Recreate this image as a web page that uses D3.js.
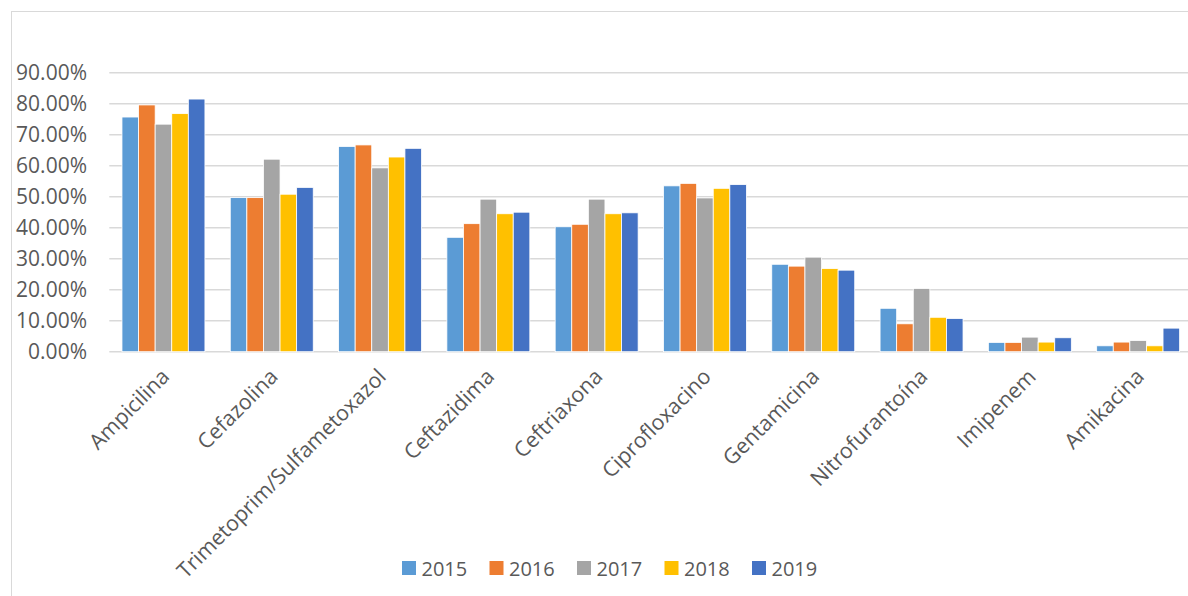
<!DOCTYPE html>
<html>
<head>
<meta charset="utf-8">
<script src="https://cdn.jsdelivr.net/npm/d3@7"></script>
<style>
  html, body { margin: 0; padding: 0; background: #fff; }
  svg { display: block; }
  text { font-family: "Open Sans", "Noto Sans", sans-serif; fill: #595959; }
</style>
</head>
<body>
<svg id="chart" width="1188" height="596"></svg>
<script>
// Antibiotic resistance by year (share of isolates)
const categories = ["Ampicilina", "Cefazolina", "Trimetoprim/Sulfametoxazol", "Ceftazidima",
  "Ceftriaxona", "Ciprofloxacino", "Gentamicina", "Nitrofurantoína", "Imipenem", "Amikacina"];
const years = ["2015", "2016", "2017", "2018", "2019"];
const v2015 = [0.757, 0.497, 0.662, 0.369, 0.403, 0.535, 0.282, 0.140, 0.030, 0.019];
const v2016 = [0.796, 0.497, 0.667, 0.413, 0.411, 0.543, 0.276, 0.090, 0.030, 0.031];
const v2017 = [0.734, 0.621, 0.593, 0.492, 0.492, 0.496, 0.305, 0.204, 0.047, 0.036];
const v2018 = [0.768, 0.508, 0.628, 0.445, 0.445, 0.527, 0.268, 0.111, 0.031, 0.019];
const v2019 = [0.815, 0.530, 0.656, 0.450, 0.448, 0.539, 0.263, 0.107, 0.045, 0.076];
const yTicks = [0, 0.1, 0.2, 0.3, 0.4, 0.5, 0.6, 0.7, 0.8, 0.9];
const colors = ["#5b9bd5", "#ed7d31", "#a5a5a5", "#ffc000", "#4472c4"];

const seriesValues = [v2015, v2016, v2017, v2018, v2019];
const svg = d3.select("#chart");

// chart frame
svg.append("rect")
  .attr("x", 11.5).attr("y", 11.5)
  .attr("width", 1300).attr("height", 700)
  .attr("fill", "none").attr("stroke", "#d9d9d9").attr("stroke-width", 1);

const plotLeft = 109.3, step = 108.3;
const x = d3.scaleBand()
  .domain(categories)
  .range([plotLeft, plotLeft + step * categories.length])
  .paddingInner(0.234)
  .paddingOuter(0.117);
const xs = d3.scaleBand().domain(years).range([0, x.bandwidth()]);
const y = d3.scaleLinear().domain([0, 0.9]).range([351.7, 72.7]);

// gridlines
svg.append("g")
  .selectAll("line")
  .data(yTicks)
  .join("line")
  .attr("x1", plotLeft).attr("x2", 1200)
  .attr("y1", d => y(d)).attr("y2", d => y(d))
  .attr("stroke", "#d9d9d9").attr("stroke-width", 1.4);

// y axis labels
const yAxis = d3.axisLeft(y).tickValues(yTicks).tickFormat(d3.format(".2%")).tickSize(0).tickPadding(0);
const gy = svg.append("g").attr("transform", "translate(87,0)").call(yAxis);
gy.select(".domain").remove();
gy.selectAll("text")
  .attr("font-size", 21)
  .attr("font-family", "'Open Sans', sans-serif")
  .attr("fill", "#595959");

// bars
const groups = svg.append("g")
  .selectAll("g")
  .data(categories)
  .join("g")
  .attr("transform", d => `translate(${x(d)},0)`);

groups.selectAll("rect")
  .data((c, i) => years.map((yr, k) => ({ yr, k, v: seriesValues[k][i] })))
  .join("rect")
  .attr("x", d => xs(d.yr))
  .attr("width", xs.bandwidth())
  .attr("y", d => y(d.v))
  .attr("height", d => y(0) - y(d.v))
  .attr("fill", d => colors[d.k])
  .attr("stroke", "#ffffff")
  .attr("stroke-width", 0.8);

// category labels
const xAxis = d3.axisBottom(x).tickSize(0).tickPadding(0);
const gx = svg.append("g").attr("transform", `translate(0,${y(0)})`).call(xAxis);
gx.select(".domain").remove();
gx.selectAll(".tick text")
  .attr("font-size", 21.3)
  .attr("font-family", "'Open Sans', sans-serif")
  .attr("fill", "#595959")
  .attr("text-anchor", "end")
  .attr("dy", "0.35em")
  .attr("transform", "translate(2,21) rotate(-45)");

// legend
const legend = svg.append("g");
const itemStep = 87.5, legendX = 402, legendY = 561;
const items = legend.selectAll("g")
  .data(years)
  .join("g")
  .attr("transform", (d, i) => `translate(${legendX + i * itemStep},${legendY})`);
items.append("rect")
  .attr("width", 14).attr("height", 14)
  .attr("fill", (d, i) => colors[i]);
items.append("text")
  .attr("x", 19.5).attr("y", 15)
  .attr("font-size", 20)
  .text(d => d);
</script>
</body>
</html>
